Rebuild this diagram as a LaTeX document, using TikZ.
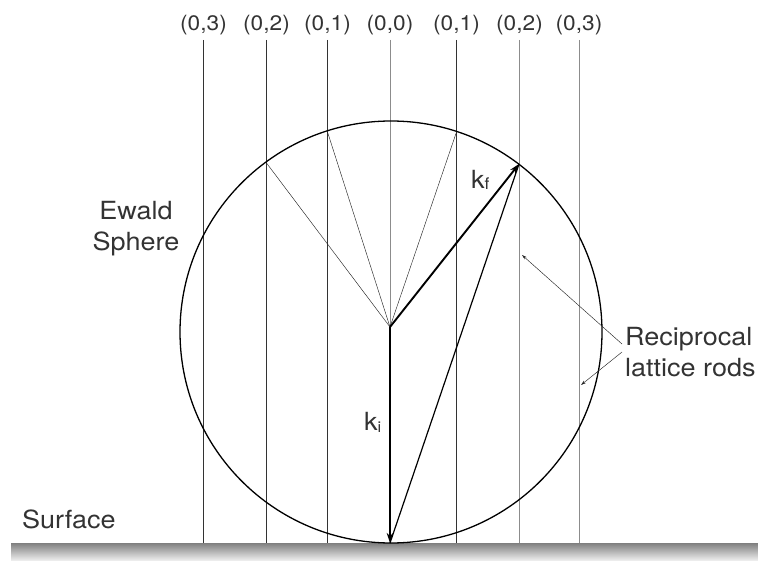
\documentclass[tikz,border=0pt]{standalone}
\usepackage{fontspec}
\setmainfont{TeX Gyre Heros}
\newfontfamily\wordfont[FakeStretch=1.08]{TeX Gyre Heros}
\usetikzlibrary{arrows.meta}
\begin{document}
\begin{tikzpicture}[x=1pt,y=-1pt,
  rod/.style={line width=0.6pt,draw=black!80},
  rodg/.style={line width=0.7pt,draw=black!45},
  rodlbl/.style={font=\wordfont\fontsize{21}{24}\selectfont,text=black!80,inner sep=0pt,anchor=base},
  word/.style={font=\wordfont\fontsize{25}{28}\selectfont,text=black!80,inner sep=0pt,anchor=base west},
  klbl/.style={font=\wordfont\fontsize{25}{28}\selectfont,text=black!80,inner sep=0pt,anchor=base west},
  ray/.style={line width=0.45pt,draw=black!85},
  vec/.style={line width=1.9pt,-{Stealth[length=10pt,width=6.5pt]}},
  pointer/.style={line width=0.45pt,draw=black!85,-{Stealth[length=5pt,width=3pt]}}]
\useasboundingbox (0,0) rectangle (758,561);
% surface
\shade[top color=black!50, bottom color=black!5] (11,543) rectangle (758,561);
% rods
\foreach \n/\x/\s/\t in {a/203.5/rod/{(0,3)},b/266.5/rod/{(0,2)},c/327.5/rod/{(0,1)},d/390/rodg/{(0,0)},e/456.5/rod/{(0,1)},f/519.5/rodg/{(0,2)},g/579/rodg/{(0,3)}}{
  \coordinate (rt\n) at (\x,40);
  \coordinate (rb\n) at (\x,543);
  \draw[\s] (rt\n) -- (rb\n);
  \node[rodlbl] (l\n) at (\x,31) {\t};
}
% Ewald sphere
\node[circle,draw,line width=1.3pt,inner sep=0pt,minimum size=422pt] (S) at (391,332) {};
\coordinate (O) at (390,327);
\coordinate (B) at (390,543);
\coordinate (P2) at (266.5,163);
\coordinate (P1) at (327.5,132);
\coordinate (Q1) at (456.5,132);
\coordinate (Q2) at (519,164);
\draw[ray] (O) -- (P2);
\draw[ray] (O) -- (P1);
\draw[ray] (O) -- (Q1);
\draw[line width=1.2pt] (B) -- (Q2);
\draw[vec] (O) -- (B);
\draw[vec] (O) -- (Q2);
% labels
\node[klbl] (kf) at (471,189) {k\raisebox{-1pt}{\fontsize{16}{16}\selectfont f}};
\node[klbl] (ki) at (364,430) {k\raisebox{-2pt}{\fontsize{15}{15}\selectfont i}};
\node[word,anchor=base] (ew1) at (136,220) {Ewald};
\node[word,anchor=base] (ew2) at (136,251) {Sphere};
\node[word] (rc1) at (625,346) {Reciprocal};
\node[word] (rc2) at (625,377) {lattice rods};
\node[word] (sf) at (22,528) {Surface};
% pointers
\coordinate (A1) at (622,344);
\coordinate (A2) at (622,352);
\coordinate (T1) at (522,255);
\coordinate (T2) at (581,385);
\draw[pointer] (A1) -- (T1);
\draw[pointer] (A2) -- (T2);
\end{tikzpicture}
\end{document}
